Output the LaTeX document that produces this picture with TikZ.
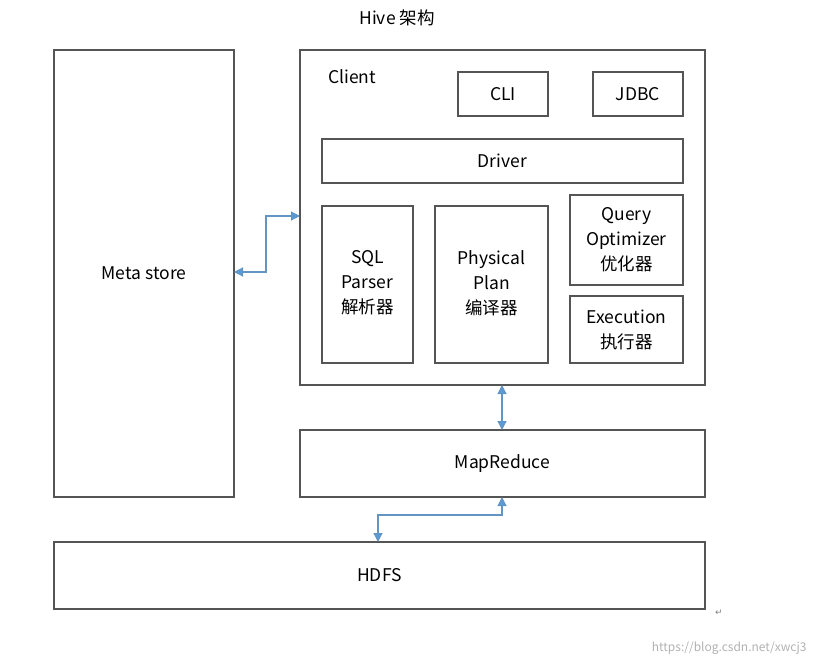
\documentclass[tikz,border=0pt]{standalone}
\usepackage{fontspec}
\setmainfont{Noto Sans CJK SC}
\newfontfamily\symfont{DejaVu Sans}
\usetikzlibrary{arrows.meta}
\definecolor{bx}{HTML}{555555}
\definecolor{ar}{HTML}{5B9BD5}
\tikzset{
  box/.style={draw=bx,line width=1.3pt,inner sep=0pt},
  lbl/.style={font=\fontsize{17.5}{25}\selectfont,align=center,inner sep=0pt},
  conn/.style={draw=ar!80!gray,line width=1.2pt,{Triangle[length=9pt,width=9pt,fill=ar]}-{Triangle[length=9pt,width=9pt,fill=ar]}}
}
\begin{document}
\begin{tikzpicture}[x=1pt,y=-1pt]
\useasboundingbox (0,0) rectangle (815,665);
\node[box,minimum width=180,minimum height=447] (meta) at (144,273.5) {};
\node[lbl] at (meta) {Meta store};
\node[box,minimum width=405,minimum height=335] (client) at (502.5,217.5) {};
\node[lbl,anchor=west] (clientl) at (328,77) {Client};
\node[box,minimum width=90,minimum height=44] (cli) at (503,94) {};
\node[lbl] at (cli) {CLI};
\node[box,minimum width=90,minimum height=44] (jdbc) at (638,94) {};
\node[lbl] at (jdbc) {JDBC};
\node[box,minimum width=361,minimum height=44] (driver) at (502.5,161) {};
\node[lbl] at (driver) {Driver};
\node[box,minimum width=91,minimum height=157] (sql) at (367.5,284.5) {};
\node[lbl] at (367.5,283) {SQL\\Parser\\解析器};
\node[box,minimum width=113,minimum height=157] (phys) at (491.5,284.5) {};
\node[lbl] at (491.5,283) {Physical\\Plan\\编译器};
\node[box,minimum width=113,minimum height=90] (qo) at (626.5,240) {};
\node[lbl] at (qo) {Query\\Optimizer\\优化器};
\node[box,minimum width=113,minimum height=67] (exe) at (626.5,329.5) {};
\node[lbl] at (exe) {Execution\\执行器};
\node[box,minimum width=405,minimum height=67] (mr) at (502.5,463.5) {};
\node[lbl] at (mr) {MapReduce};
\node[box,minimum width=651,minimum height=67] (hdfs) at (379.5,575.5) {};
\node[lbl] at (hdfs) {HDFS};
\node[lbl] (title) at (397,18) {Hive 架构};
\node[font=\fontsize{12}{14}\selectfont,text=gray!60,anchor=east] (wm) at (810,648) {https://blog.csdn.net/xwcj3};
\node[font=\symfont\fontsize{9}{10}\selectfont,text=gray] (ret) at (719,613) {↵};
\coordinate (m1) at (234,272);
\coordinate (c1) at (300,216);
\coordinate (ct) at (502,385);
\coordinate (mt) at (502,430);
\coordinate (hb) at (378,542);
\coordinate (mb) at (502,497);
\draw[conn] (m1) -- (266,272) -- (266,216) -- (c1);
\draw[conn] (ct) -- (mt);
\draw[conn] (hb) -- (378,515) -- (502,515) -- (mb);
\end{tikzpicture}
\end{document}
